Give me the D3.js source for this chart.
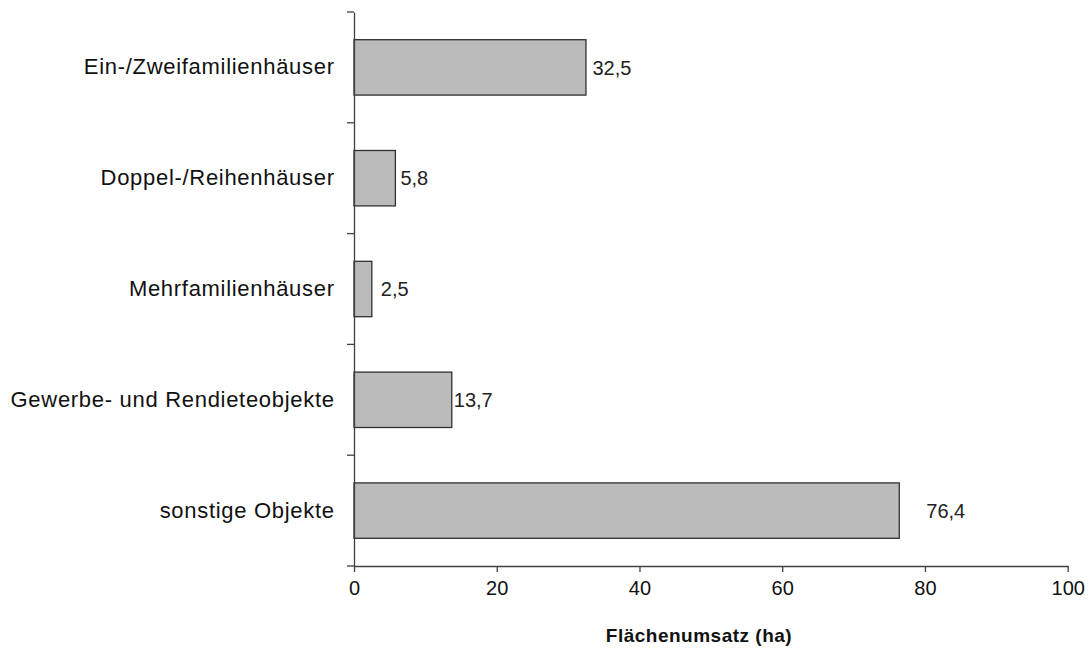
<!DOCTYPE html>
<html>
<head>
<meta charset="utf-8">
<script src="https://cdn.jsdelivr.net/npm/d3@7"></script>
<style>
  html, body { margin: 0; padding: 0; background: #fff; }
  svg { display: block; font-family: "Liberation Sans", Arial, sans-serif; }
</style>
</head>
<body>
<svg id="chart" width="1089" height="648"></svg>
<script>
// Flächenumsatz nach Objektart (ha)
const categories = [
  "Ein-/Zweifamilienhäuser",
  "Doppel-/Reihenhäuser",
  "Mehrfamilienhäuser",
  "Gewerbe- und Rendieteobjekte",
  "sonstige Objekte"
];
const values = [32.5, 5.8, 2.5, 13.7, 76.4];
const valueLabels = ["32,5", "5,8", "2,5", "13,7", "76,4"];
const xTicks = [0, 20, 40, 60, 80, 100];
const xTitle = "Flächenumsatz (ha)";

// layout
const plotLeft = 354, plotRight = 1067.7, plotTop = 12, plotBottom = 566;
const labelGap = [6.5, 5, 9, 2, 27];
const axisColor = "#404040";

const svg = d3.select("#chart");

const x = d3.scaleLinear().domain([0, 100]).range([plotLeft, plotRight]);
const y = d3.scaleBand().domain(categories).range([plotTop, plotBottom])
  .paddingInner(0.5).paddingOuter(0.25);

// bars
svg.append("g").selectAll("rect")
  .data(categories)
  .join("rect")
  .attr("x", x(0))
  .attr("y", d => y(d))
  .attr("width", (d, i) => x(values[i]) - x(0))
  .attr("height", y.bandwidth())
  .attr("fill", "#BBBBBB")
  .attr("stroke", "#303030")
  .attr("stroke-width", 1.3);

// value labels
svg.append("g").selectAll("text")
  .data(categories)
  .join("text")
  .attr("x", (d, i) => x(values[i]) + labelGap[i])
  .attr("y", d => y(d) + y.bandwidth() / 2)
  .attr("dy", "0.36em")
  .attr("font-size", 20)
  .attr("fill", "#222")
  .text((d, i) => valueLabels[i]);

// y axis with category labels
const yAxis = svg.append("g")
  .attr("transform", `translate(${plotLeft},0)`)
  .call(d3.axisLeft(y).tickSize(0).tickPadding(20));
yAxis.select(".domain").attr("stroke", axisColor).attr("stroke-width", 1.3);
yAxis.selectAll("text")
  .attr("font-size", 22)
  .attr("fill", "#111")
  .attr("letter-spacing", "0.7px")
  .attr("dx", "0.7px");

// boundary ticks between categories
const bounds = d3.range(categories.length + 1).map(i => plotTop + i * y.step());
svg.append("g").selectAll("line")
  .data(bounds)
  .join("line")
  .attr("x1", plotLeft - 7).attr("x2", plotLeft)
  .attr("y1", d => d).attr("y2", d => d)
  .attr("stroke", axisColor).attr("stroke-width", 1.3);

// x axis
const xAxis = svg.append("g")
  .attr("transform", `translate(0,${plotBottom})`)
  .call(d3.axisBottom(x).tickValues(xTicks).tickSize(6).tickPadding(9).tickSizeOuter(0));
xAxis.select(".domain").attr("stroke", axisColor).attr("stroke-width", 1.3);
xAxis.selectAll(".tick line").attr("stroke", axisColor).attr("stroke-width", 1.3);
xAxis.selectAll("text").attr("font-size", 20).attr("fill", "#111");

// x axis title
svg.append("text")
  .attr("x", 699)
  .attr("y", 642)
  .attr("text-anchor", "middle")
  .attr("font-size", 19)
  .attr("font-weight", "bold")
  .attr("letter-spacing", "0.5px")
  .attr("fill", "#111")
  .text(xTitle);
</script>
</body>
</html>
